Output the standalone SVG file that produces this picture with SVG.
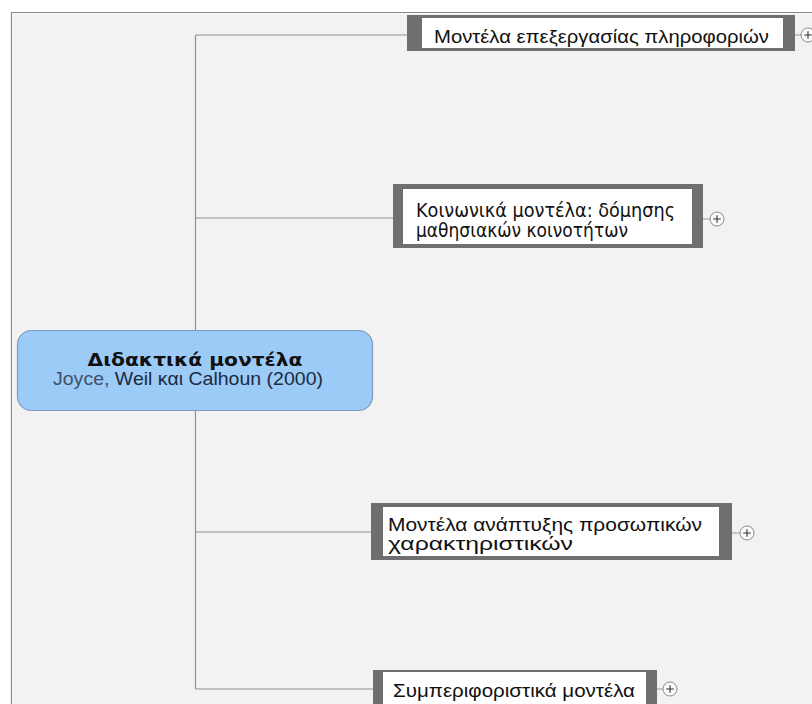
<svg xmlns="http://www.w3.org/2000/svg" width="812" height="704" viewBox="0 0 812 704">
  <style>
    .link { fill: none; stroke: #8f8f8f; stroke-width: 1.2; }
    .frame { fill: #6f6f6f; }
    .inner { fill: #ffffff; }
    .t { font-family: "DejaVu Sans", Verdana, sans-serif; fill: #111; }
    .ta { font-family: "Liberation Sans", Arial, sans-serif; fill: #111; }
    .stub { stroke: #9a9a9a; stroke-width: 1; }
    .pc { fill: #fafafa; stroke: #8a8a8a; stroke-width: 1; }
    .pp { stroke: #333333; stroke-width: 1.1; fill: none; }
  </style>
  <defs>
    <g id="plus">
      <circle class="pc" cx="0" cy="0" r="7"/>
      <path class="pp" d="M-3.8 0H3.8M0 -3.8V3.8"/>
    </g>
  </defs>

  <!-- canvas -->
  <rect x="0" y="0" width="812" height="704" fill="#ffffff"/>
  <rect x="11" y="12" width="810" height="700" fill="#f2f2f2"/>
  <path d="M11.5 712V12.5H812" fill="none" stroke="#8a8a8a" stroke-width="1.2"/>
  <path d="M12.8 712V13.8H812" fill="none" stroke="#ffffff" stroke-width="0.8" opacity="0.8"/>

  <!-- connectors -->
  <g id="connectors">
    <path class="link" d="M195.5 35V689"/>
    <path class="link" d="M195.5 35H407"/>
    <path class="link" d="M195.5 218H393"/>
    <path class="link" d="M195.5 532H371"/>
    <path class="link" d="M195.5 689H373"/>
  </g>

  <!-- central topic -->
  <g id="root">
    <rect x="17.5" y="330.5" width="355" height="80" rx="14" fill="#9ccbf8" stroke="#7d9cbd" stroke-width="1.2"/>
    <text class="t" x="195" y="366" text-anchor="middle" font-size="18" font-weight="bold" fill="#404040" textLength="215" lengthAdjust="spacingAndGlyphs">Διδακτικά μοντέλα</text>
    <text class="ta" x="188" y="385" text-anchor="middle" font-size="19" textLength="270" lengthAdjust="spacingAndGlyphs"><tspan fill="#3f5068">Joyce,</tspan><tspan fill="#1b2a3e"> Weil και Calhoun (2000)</tspan></text>
  </g>

  <!-- information processing models -->
  <g id="node-info">
    <rect class="frame" x="407" y="15" width="388" height="36"/>
    <rect class="inner" x="422" y="18" width="361" height="30"/>
    <text class="ta" x="434" y="43" font-size="18" textLength="335" lengthAdjust="spacingAndGlyphs">Μοντέλα επεξεργασίας πληροφοριών</text>
    <line class="stub" x1="795" y1="35" x2="801" y2="35"/>
    <use href="#plus" x="808" y="35"/>
  </g>

  <!-- social models -->
  <g id="node-social">
    <rect class="frame" x="393" y="184" width="310" height="64"/>
    <rect class="inner" x="403" y="189" width="289" height="55"/>
    <text class="t" x="416" y="217" font-size="19" textLength="259" lengthAdjust="spacingAndGlyphs">Κοινωνικά μοντέλα: δόμησης</text>
    <text class="t" x="416" y="237" font-size="19" textLength="212" lengthAdjust="spacingAndGlyphs">μαθησιακών κοινοτήτων</text>
    <line class="stub" x1="703" y1="219" x2="710" y2="219"/>
    <use href="#plus" x="717" y="219"/>
  </g>

  <!-- personal development models -->
  <g id="node-personal">
    <rect class="frame" x="371" y="503" width="361" height="57"/>
    <rect class="inner" x="383" y="507" width="336" height="49"/>
    <text class="ta" x="388" y="531" font-size="17.5" textLength="314" lengthAdjust="spacingAndGlyphs">Μοντέλα ανάπτυξης προσωπικών</text>
    <text class="ta" x="388" y="550" font-size="17.5" textLength="185" lengthAdjust="spacingAndGlyphs">χαρακτηριστικών</text>
    <line class="stub" x1="732" y1="533" x2="740" y2="533"/>
    <use href="#plus" x="747" y="533"/>
  </g>

  <!-- behavioural models -->
  <g id="node-behaviour">
    <rect class="frame" x="373" y="670" width="284" height="40"/>
    <rect class="inner" x="383" y="672" width="263" height="38"/>
    <text class="ta" x="393" y="697" font-size="18" textLength="242" lengthAdjust="spacingAndGlyphs">Συμπεριφοριστικά μοντέλα</text>
    <line class="stub" x1="657" y1="689" x2="663" y2="689"/>
    <use href="#plus" x="670" y="689"/>
  </g>
</svg>
